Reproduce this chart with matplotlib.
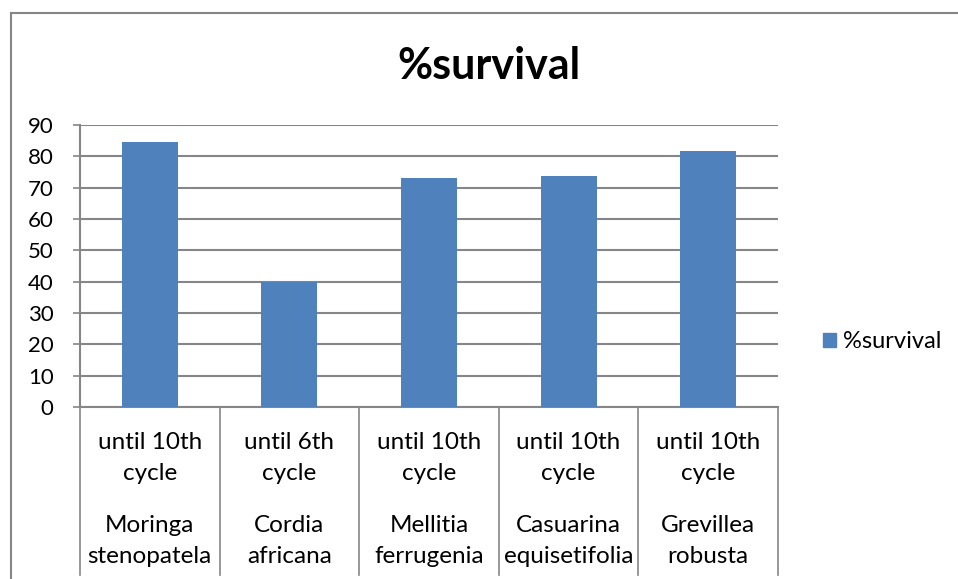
import matplotlib
matplotlib.use('Agg')
import matplotlib.pyplot as plt
from matplotlib.patches import Patch
from matplotlib.lines import Line2D

# data
species = ['Moringa\nstenopatela', 'Cordia\nafricana', 'Mellitia\nferrugenia',
           'Casuarina\nequisetifolia', 'Grevillea\nrobusta']
periods = ['until 10th\ncycle', 'until 6th\ncycle', 'until 10th\ncycle',
           'until 10th\ncycle', 'until 10th\ncycle']
survival = [84.7, 40.0, 73.2, 73.7, 81.7]
yticks = [0, 10, 20, 30, 40, 50, 60, 70, 80, 90]

bar_color = '#4f81bd'
grid_color = '#868686'
font = 'Lato'

W, H = 958, 579
fig = plt.figure(figsize=(W / 100, H / 100), dpi=100)

# chart border (only top/left visible in the reference)
fig.add_artist(Line2D([11 / W, 11 / W], [0, 1 - 13 / H], color=grid_color, lw=1.5))
fig.add_artist(Line2D([11 / W, 1], [1 - 13 / H, 1 - 13 / H], color=grid_color, lw=1.5))

ax_left, ax_right, ax_top, ax_bot = 80, 778, 125, 407
ax = fig.add_axes([ax_left / W, 1 - ax_bot / H, (ax_right - ax_left) / W, (ax_bot - ax_top) / H])

x = list(range(len(survival)))
bars = ax.bar(x, survival, width=0.4, color=bar_color, label='%survival', zorder=3)

ax.set_xlim(-0.5, len(survival) - 0.5)
ax.set_ylim(0, 90)
ax.set_yticks(yticks)
ax.set_yticklabels([str(v) for v in yticks], fontsize=16, family=font)
ax.yaxis.grid(True, color=grid_color, lw=1.5, zorder=0)
ax.tick_params(axis='y', length=5, width=1.2, color=grid_color, pad=14)
ax.set_xticks([])

for s in ['top', 'right']:
    ax.spines[s].set_visible(False)
for s in ['left', 'bottom']:
    ax.spines[s].set_color(grid_color)
    ax.spines[s].set_linewidth(1.5)

# multi-level category axis
ax_h = ax_bot - ax_top
tr = ax.get_xaxis_transform()
for b in [i - 0.5 for i in range(len(survival) + 1)]:
    ax.plot([b, b], [0, -(575 - ax_bot) / ax_h], color=grid_color, lw=1.2,
            transform=tr, clip_on=False)
for i in x:
    ax.text(i, -(458 - ax_bot) / ax_h, periods[i], transform=tr, ha='center', va='center',
            fontsize=17.5, family=font, linespacing=1.63)
    ax.text(i, -(541 - ax_bot) / ax_h, species[i], transform=tr, ha='center', va='center',
            fontsize=17.5, family=font, linespacing=1.63)

fig.text(489 / W, 1 - 66 / H, '%survival', ha='center', va='center',
         fontsize=31, fontweight='bold', family=font)

fig.legend(handles=[Patch(color=bar_color, label='%survival')],
           loc='center left', bbox_to_anchor=(802 / W, 1 - 342 / H),
           frameon=False, prop={'family': font, 'size': 17},
           handlelength=0.55, handleheight=0.55, handletextpad=0.3)

fig.savefig('out.png', dpi=100)
